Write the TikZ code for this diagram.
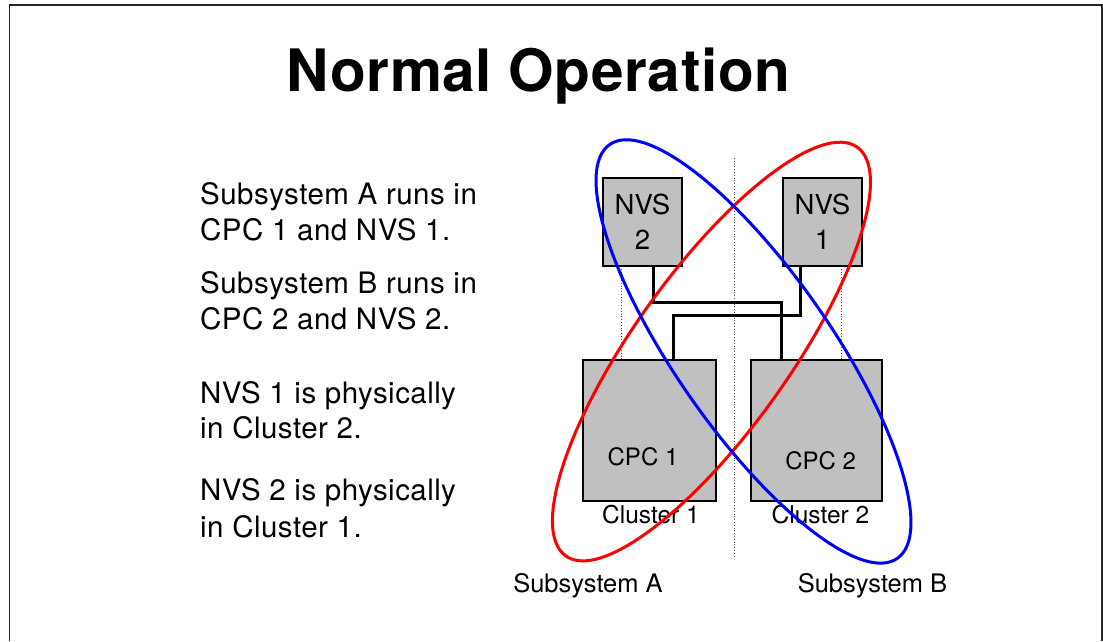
\documentclass[tikz,border=0pt]{standalone}
\usepackage{fontspec}
\setmainfont{TeX Gyre Heros}
\definecolor{boxgray}{RGB}{192,192,192}
\begin{document}
\begin{tikzpicture}[x=1pt,y=-1pt,
  box/.style={draw=black,line width=2pt,fill=boxgray,inner sep=0pt},
  conn/.style={line width=3pt},
  guide/.style={black!70,dotted,line width=0.8pt},
  loopA/.style={red,line width=3pt},
  loopB/.style={blue,line width=3pt},
  body/.style={anchor=base west,inner sep=0pt,font=\fontsize{29.5}{36}\selectfont\addfontfeature{LetterSpace=1.6}},
  lab/.style={anchor=base,inner sep=0pt,font=\fontsize{24}{29}\selectfont},
  sub/.style={anchor=base,inner sep=0pt,font=\fontsize{25.5}{30}\selectfont}]
\useasboundingbox (0,0) rectangle (1103,641);
\draw[line width=1.5pt,black!85] (9.5,641) -- (9.5,5) -- (1102,5) -- (1102,641);

\node[anchor=base,inner sep=0pt,font=\fontsize{58.5}{70}\selectfont\bfseries\addfontfeature{LetterSpace=1.0}] (title) at (538.5,91) {Normal Operation};

\node[body] (t1) at (200,204) {Subsystem A runs in};
\node[body] (t2) at (200,240) {CPC 1 and NVS 1.};
\node[body] (t3) at (200,293) {Subsystem B runs in};
\node[body] (t4) at (200,329) {CPC 2 and NVS 2.};
\node[body] (t5) at (200,403) {NVS 1 is physically};
\node[body] (t6) at (200,438) {in Cluster 2.};
\node[body] (t7) at (200,500) {NVS 2 is physically};
\node[body] (t8) at (200,537) {in Cluster 1.};

% guides
\coordinate (g0) at (734,158);
\coordinate (g1) at (734,557);
\draw[guide] (g0) -- (g1);
\coordinate (gl0) at (621,266);
\coordinate (gl1) at (621,360);
\coordinate (gr0) at (841,266);
\coordinate (gr1) at (841,360);
\draw[guide] (gl0) -- (gl1);
\draw[guide] (gr0) -- (gr1);

% boxes
\node[box,minimum width=79pt,minimum height=88pt,align=center,
      font=\fontsize{27.5}{35}\selectfont] (nvs2) at (642.5,222) {NVS\\2};
\node[box,minimum width=79pt,minimum height=88pt,align=center,
      font=\fontsize{27.5}{35}\selectfont] (nvs1) at (822.5,222) {NVS\\1};
\node[box,minimum width=133pt,minimum height=141pt] (cpc1) at (649.5,430.5) {};
\node[box,minimum width=131pt,minimum height=141pt] (cpc2) at (816.5,430.5) {};

\node[lab] (cpc1t) at (643,465.7) {CPC 1};
\node[lab] (cpc2t) at (820.7,469) {CPC 2};
\node[lab,font=\fontsize{24.5}{29}\selectfont] (cl1) at (651,523) {Cluster 1};
\node[lab,font=\fontsize{24.5}{29}\selectfont] (cl2) at (820.5,523) {Cluster 2};
\node[sub] (subA) at (588,592) {Subsystem A};
\node[sub] (subB) at (872.5,592) {Subsystem B};

% connectors
\coordinate (a1) at (653,302);
\coordinate (a2) at (781,302);
\coordinate (b1) at (800,315);
\coordinate (b2) at (673,315);
\draw[conn] (nvs2.south -| a1) -- (a1) -- (a2) -- (cpc2.north -| a2);
\draw[conn] (nvs1.south -| b1) -- (b1) -- (b2) -- (cpc1.north -| b2);

% subsystem loops
\coordinate (ca) at (711.5,351.5);
\coordinate (cb) at (753.5,351.5);
\draw[loopA,rotate around={54.5:(ca)}] (ca) ellipse [x radius=251pt,y radius=78pt];
\draw[loopB,rotate around={-55.2:(cb)}] (cb) ellipse [x radius=252pt,y radius=78pt];
\end{tikzpicture}
\end{document}
